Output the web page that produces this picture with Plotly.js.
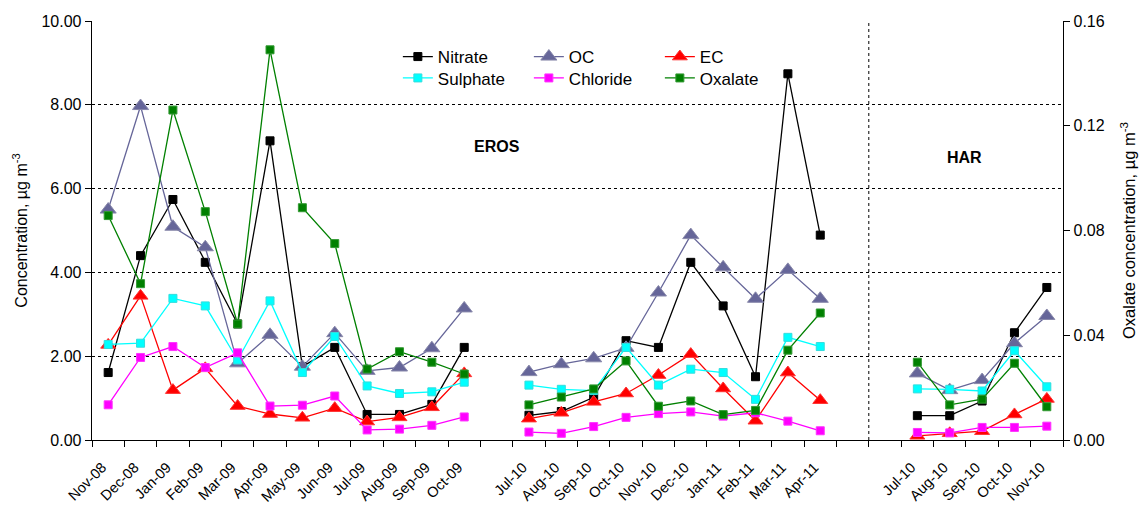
<!DOCTYPE html>
<html>
<head>
<meta charset="utf-8">
<script src="https://cdn.plot.ly/plotly-3.0.1.min.js"></script>
<style>html,body{margin:0;padding:0;background:#fff;}#chart{width:1144px;height:509px;}</style>
</head>
<body>
<div id="chart"></div>
<script>
// Categories ('' = empty gap category)
const categories = ["Nov-08","Dec-08","Jan-09","Feb-09","Mar-09","Apr-09","May-09","Jun-09","Jul-09","Aug-09","Sep-09","Oct-09",
  "",
  "Jul-10","Aug-10","Sep-10","Oct-10","Nov-10","Dec-10","Jan-11","Feb-11","Mar-11","Apr-11",
  "","",
  "Jul-10","Aug-10","Sep-10","Oct-10","Nov-10"];

const nitrate  = [1.61,4.40,5.74,4.24,2.77,7.14,1.75,2.21,0.61,0.61,0.85,2.21, null,
  0.59,0.68,1.02,2.37,2.21,4.24,3.20,1.51,8.74,4.89, null,null, 0.58,0.58,0.93,2.56,3.64];
const oc       = [5.50,7.97,5.09,4.60,1.83,2.51,1.75,2.55,1.65,1.73,2.19,3.14, null,
  1.62,1.81,1.95,2.20,3.52,4.89,4.12,3.37,4.06,3.37, null,null, 1.59,1.19,1.43,2.31,2.96];
const ec       = [2.27,3.44,1.19,1.71,0.81,0.62,0.53,0.76,0.44,0.54,0.78,1.59, null,
  0.51,0.65,0.91,1.11,1.55,2.05,1.23,0.46,1.61,0.95, null,null, 0.10,0.16,0.21,0.61,0.98];
const sulphate = [2.28,2.31,3.38,3.20,1.91,3.32,1.61,2.47,1.29,1.11,1.15,1.38, null,
  1.31,1.21,1.18,2.21,1.31,1.69,1.61,0.97,2.45,2.23, null,null, 1.22,1.21,1.17,2.13,1.27];
const chloride = [0.84,1.97,2.23,1.73,2.08,0.81,0.83,1.05,0.24,0.26,0.35,0.55, null,
  0.19,0.16,0.32,0.54,0.63,0.67,0.57,0.65,0.45,0.22, null,null, 0.18,0.17,0.30,0.30,0.33];
const oxalate  = [0.0857,0.0597,0.126,0.0872,0.0443,0.149,0.0887,0.075,0.0271,0.0337,0.0297,0.0252, null,
  0.0134,0.0164,0.0195,0.0302,0.0129,0.0149,0.0097,0.0113,0.0343,0.0485, null,null,
  0.0297,0.0134,0.0156,0.0293,0.0127];

const leftTicks  = [0,2,4,6,8,10];
const rightTicks = [0,0.04,0.08,0.12,0.16];

const xIdx = categories.map((_, i) => i);
const tickvals = xIdx.filter(i => categories[i] !== "");
const ticktext = tickvals.map(i => categories[i]);

const FONT = "Arial, 'Liberation Sans', sans-serif";

function sq(color, edge) { return {symbol:"square", size:8, color:color, line:{color:edge, width:1}}; }
function tri(color, edge, s) { return {symbol:"triangle-up", size:s, color:color, line:{color:edge, width:1}}; }

const traces = [
  {name:"Nitrate", x:xIdx, y:nitrate, mode:"lines+markers", line:{color:"#000000", width:1.3}, marker:sq("#000000","#000000"), legend:"legend"},
  {name:"OC", x:xIdx, y:oc, mode:"lines+markers", line:{color:"#666699", width:1.3}, marker:tri("#666699","#8888aa",14), legend:"legend"},
  {name:"EC", x:xIdx, y:ec, mode:"lines+markers", line:{color:"#ff0000", width:1.3}, marker:tri("#ff0000","#ff3333",13), legend:"legend"},
  {name:"Sulphate", x:xIdx, y:sulphate, mode:"lines+markers", line:{color:"#00ffff", width:1.3}, marker:sq("#00ffff","#33dddd"), legend:"legend2"},
  {name:"Chloride", x:xIdx, y:chloride, mode:"lines+markers", line:{color:"#ff00ff", width:1.3}, marker:sq("#ff00ff","#ff33ff"), legend:"legend2"},
  {name:"Oxalate", x:xIdx, y:oxalate, yaxis:"y2", mode:"lines+markers", line:{color:"#008000", width:1.3}, marker:sq("#008000","#339933"), legend:"legend2"}
];

const layout = {
  width:1144, height:509,
  margin:{l:92, r:81, t:21, b:69},
  paper_bgcolor:"#ffffff", plot_bgcolor:"#ffffff",
  font:{family:FONT, size:14, color:"#000000"},
  showlegend:true,
  xaxis:{
    range:[-0.5, categories.length-0.5],
    tickmode:"array", tickvals:tickvals, ticktext:ticktext,
    tickangle:-45, ticks:"", showgrid:false, zeroline:false,
    showline:true, linecolor:"#000000", linewidth:1.3,
    tickfont:{family:FONT, size:14.5},
    ticklabelstandoff:12, ticklabelshift:-6,
    minor:{tickmode:"linear", tick0:-0.5, dtick:1, ticks:"outside", ticklen:6, tickcolor:"#000000", showgrid:false}
  },
  yaxis:{
    range:[0,10], tickmode:"array", tickvals:leftTicks, tickformat:".2f",
    ticks:"outside", ticklen:6, tickcolor:"#000000",
    showline:true, linecolor:"#000000", linewidth:1.3,
    showgrid:true, gridcolor:"#000000", gridwidth:1, griddash:"3px,3px",
    zeroline:false, tickfont:{family:FONT, size:16},
    title:{text:"Concentration, µg m<sup>-3</sup>", font:{family:FONT, size:16}, standoff:10}
  },
  yaxis2:{
    range:[0,0.16], overlaying:"y", side:"right", tickmode:"array", tickvals:rightTicks, tickformat:".2f",
    ticks:"outside", ticklen:6, tickcolor:"#000000",
    showline:true, linecolor:"#000000", linewidth:1.3, showgrid:false, zeroline:false,
    tickfont:{family:FONT, size:16},
    title:{text:"Oxalate concentration, µg m<sup>-3</sup>", font:{family:FONT, size:16.5}, standoff:19}
  },
  legend:{orientation:"h", x:0.315, xanchor:"left", y:0.957, yanchor:"top", bgcolor:"rgba(0,0,0,0)",
          entrywidth:86, font:{family:FONT, size:17}, traceorder:"normal", tracegroupgap:0},
  legend2:{orientation:"h", x:0.315, xanchor:"left", y:0.906, yanchor:"top", bgcolor:"rgba(0,0,0,0)",
          entrywidth:86, font:{family:FONT, size:17}, traceorder:"normal", tracegroupgap:0},
  shapes:[
    {type:"line", xref:"x", yref:"paper", x0:23.5, x1:23.5, y0:0, y1:1, line:{color:"#000000", width:1, dash:"3px,3px"}}
  ],
  annotations:[
    {text:"<b>EROS</b>", xref:"x", yref:"y", x:12.0, y:7.0, showarrow:false, font:{family:FONT, size:16}},
    {text:"<b>HAR</b>", xref:"x", yref:"y", x:26.45, y:6.75, showarrow:false, font:{family:FONT, size:16}}
  ]
};

Plotly.newPlot("chart", traces, layout, {displayModeBar:false, staticPlot:true});
</script>
</body>
</html>
